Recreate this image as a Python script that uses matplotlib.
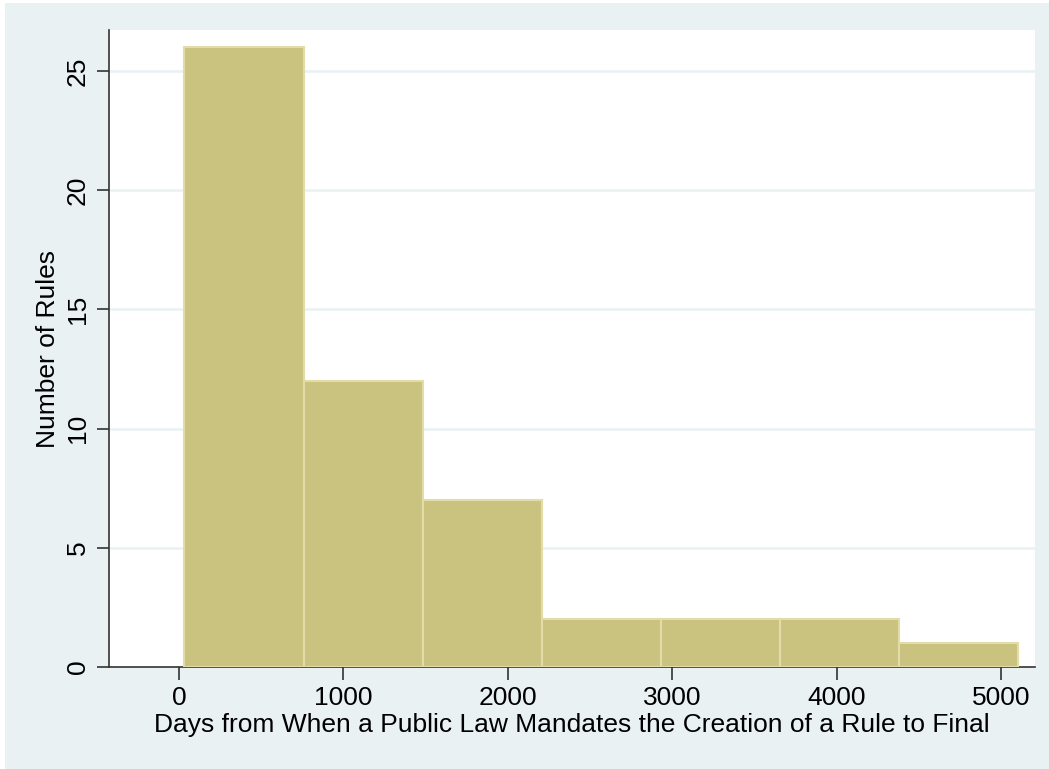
import numpy as np
import matplotlib.pyplot as plt
from matplotlib.patches import Rectangle

plt.rcParams['font.family'] = ['Liberation Sans', 'DejaVu Sans']

# histogram bins (days) and counts
bin_start = 33
bin_width = 724
counts = [26, 12, 7, 2, 2, 2, 1]
xticks = [0, 1000, 2000, 3000, 4000, 5000]
yticks = [0, 5, 10, 15, 20, 25]

edges = bin_start + bin_width*np.arange(len(counts))

bg = '#e9f1f3'
fig = plt.figure(figsize=(10.49, 7.69), dpi=100, facecolor='white')
fig.patches.append(Rectangle((5/1049, 0), 1, 1-3/769, transform=fig.transFigure,
                             facecolor=bg, edgecolor='none', zorder=-10))
ax = fig.add_axes([109/1049, 1-667/769, (1035-109)/1049, (667-30)/769])
ax.set_facecolor('white')

ax.bar(edges, counts, width=bin_width, align='edge', color='#cac27f',
       edgecolor='#e3dca8', linewidth=1.5, zorder=3)

ax.set_xlim(-426, 5206)
ax.set_ylim(0, 26.72)
ax.set_xticks(xticks)
ax.set_yticks(yticks)
ax.set_yticklabels([str(t) for t in yticks], rotation=90, va='center')
for t in yticks[1:]:
    ax.axhline(t, color=bg, linewidth=1.8, zorder=1)

for s in ['top', 'right']:
    ax.spines[s].set_visible(False)
for s in ['left', 'bottom']:
    ax.spines[s].set_color('#333333')
    ax.spines[s].set_linewidth(1.2)
ax.tick_params(length=9, width=1.2, color='#333333', labelsize=19, pad=5)

ax.set_xlabel('Days from When a Public Law Mandates the Creation of a Rule to Final',
              fontsize=19, labelpad=2)
ax.set_ylabel('Number of Rules', fontsize=19, labelpad=4)

fig.savefig('out.png', dpi=100, facecolor='white')
